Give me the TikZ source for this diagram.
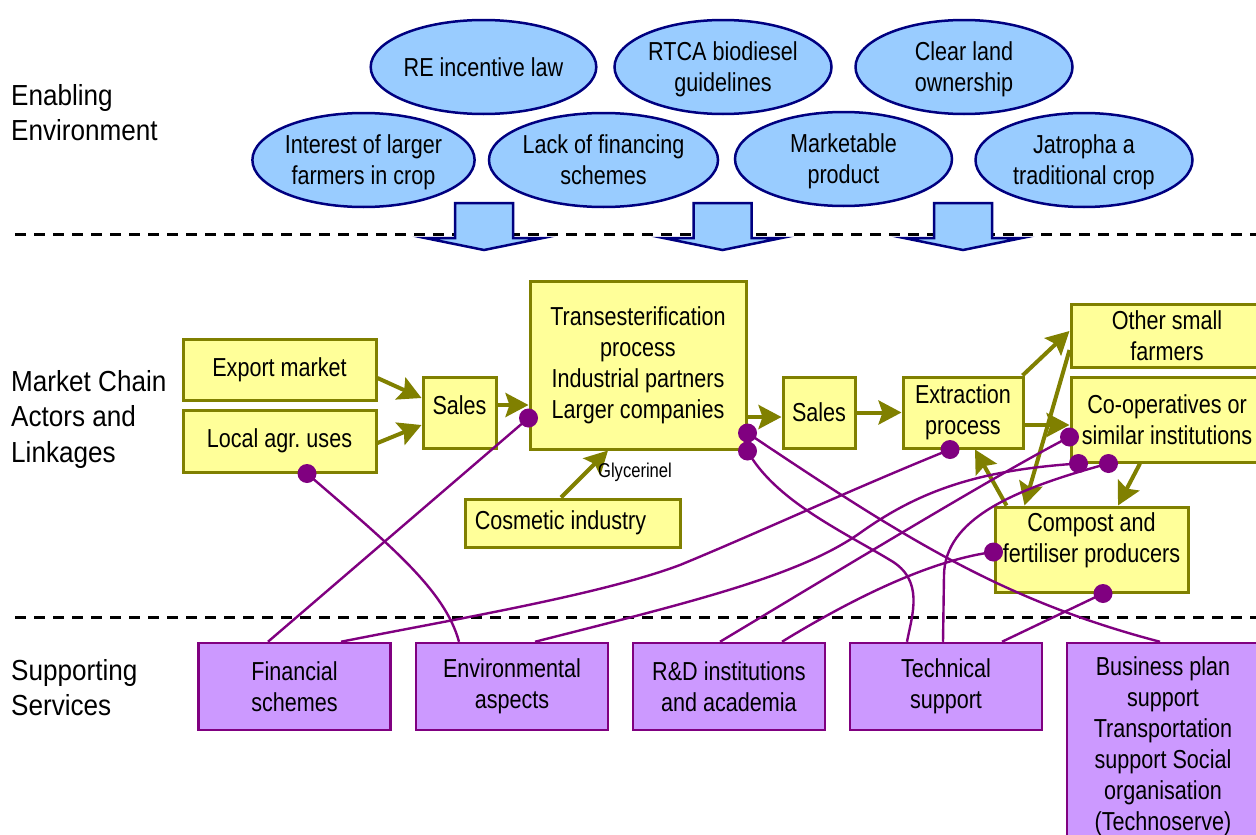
\documentclass[tikz,border=0pt]{standalone}
\usepackage{fontspec}
\setmainfont{Liberation Sans}[FakeStretch=0.83]
\newfontfamily\labfont{Liberation Sans}[FakeStretch=0.9]
\usetikzlibrary{arrows.meta,shapes.geometric,calc}
\definecolor{yfill}{HTML}{FFFF99}
\definecolor{oline}{HTML}{808000}
\definecolor{pfill}{HTML}{CC99FF}
\definecolor{pline}{HTML}{800080}
\definecolor{bfill}{HTML}{99CCFF}
\definecolor{bline}{HTML}{000080}
\begin{document}
\begin{tikzpicture}[x=1pt,y=-1pt,
  txt/.style={font=\fontsize{26}{31}\selectfont, align=center, inner sep=0pt},
  ybox/.style={txt, rectangle, draw=oline, fill=yfill, line width=3pt},
  pbox/.style={txt, rectangle, draw=pline, fill=pfill, line width=2.5pt, minimum width=192pt, minimum height=87pt},
  oval/.style={txt, ellipse, draw=bline, fill=bfill, line width=2.5pt, minimum width=217pt, minimum height=94pt, text depth=0pt},
  sect/.style={font=\labfont\fontsize{29}{35.5}\selectfont, align=left, inner sep=0pt, anchor=west},
  flow/.style={draw=oline, line width=4pt, -{Stealth[length=23pt,width=24pt,inset=4pt]}},
  link/.style={draw=pline, line width=2.4pt},
  dot/.style={fill=pline},
  divider/.style={draw=black, line width=3pt, dash pattern=on 11pt off 8pt},
  blockarrow/.style={draw=bline, fill=bfill, line width=2.5pt, line join=miter}
]
\fill[white] (0,0) rectangle (1256,835);
\useasboundingbox (0,0) rectangle (1256,835);

% section dividers
\draw[divider] (15,234) -- (1256,234);
\draw[divider] (15,617) -- (1256,617);

% block arrows
\foreach \cx in {484,722.5,963} {
  \draw[blockarrow] (\cx-29,203) -- (\cx+29,203) -- (\cx+29,238) -- (\cx+59,238)
     -- (\cx,250) -- (\cx-59,238) -- (\cx-29,238) -- cycle;
}

% section labels
\node[sect] (envlab) at (11,112.5) {Enabling\\Environment};
\node[sect] (mcl) at (11,419) {Market Chain\\Actors and\\Linkages};
\node[sect] (ssl) at (11,687.5) {Supporting\\Services};

% enabling environment
\node[oval] (re) at (483.5,67) {RE incentive law};
\node[oval] (rtca) at (723,67) {RTCA biodiesel\\guidelines};
\node[oval] (land) at (964,67) {Clear land\\ownership};
\node[oval] (interest) at (363.5,160) {Interest of larger\\farmers in crop};
\node[oval] (lack) at (603.5,160) {Lack of financing\\schemes};
\node[oval] (mkt) at (843.5,159) {Marketable\\product};
\node[oval] (jat) at (1084,160) {Jatropha a\\traditional crop};

% market chain
\node[ybox, minimum width=193pt, minimum height=61pt] (export) at (279.5,369.5) {Export market};
\node[ybox, minimum width=193pt, minimum height=62pt] (local) at (279.5,441) {Local agr.\ uses};
\node[ybox, minimum width=73pt, minimum height=71pt, text height=19pt, text depth=16pt] (sales1) at (459.5,413) {Sales};
\node[ybox, minimum width=216pt, minimum height=168pt] (trans) at (638,365) {Transesterification\\process\\Industrial partners\\Larger companies};
\node[ybox, minimum width=215pt, minimum height=48pt] (cosm) at (572.5,523) {Cosmetic industry\hspace*{24pt}};
\node[ybox, minimum width=72pt, minimum height=71pt] (sales2) at (819,412.5) {Sales};
\node[ybox, minimum width=120pt, minimum height=71pt] (extr) at (963,412.5) {Extraction\\process};
\node[ybox, minimum width=192pt, minimum height=63pt] (other) at (1167,335.5) {Other small\\farmers};
\node[ybox, minimum width=192pt, minimum height=85pt] (coop) at (1167,419.5) {Co-operatives or\\similar institutions};
\node[ybox, minimum width=193pt, minimum height=85pt, text depth=24.5pt] (comp) at (1091.5,549.5) {Compost and\\fertiliser producers};

% supporting services
\node[pbox] (fin) at (294.5,686.5) {Financial\\schemes};
\node[pbox] (env) at (512,686.5) {Environmental\\aspects};
\node[pbox] (rd) at (729,686.5) {R\&D institutions\\and academia};
\node[pbox] (tech) at (946,686.5) {Technical\\support};
\node[pbox, minimum height=207pt] (biz) at (1163,746.5) {Business plan\\support\\Transportation\\support Social\\organisation\\(Technoserve)};

% product flows
\draw[flow] ([yshift=-8.5pt]export.east) -- ([yshift=15pt]sales1.west);
\draw[flow] ([yshift=-2pt]local.east) -- ([yshift=-12pt]sales1.west);
\draw[flow] ([yshift=8pt]sales1.east) -- ([yshift=-40pt]trans.west);
\draw[flow] ([yshift=-52pt]trans.east) -- ([yshift=-4.5pt]sales2.west);
\draw[flow] (sales2.east) -- (extr.west);
\draw[flow] ([xshift=-2pt]extr.north east) -- ([yshift=4.5pt]other.west);
\draw[flow] ([yshift=-12.5pt]extr.east) -- ([yshift=-5.5pt]coop.west);
\draw[flow] ([xshift=-11.5pt]cosm.north) -- ([xshift=-30pt]trans.south);
\draw[flow] ([xshift=13pt]comp.north west) -- ([xshift=12pt]extr.south);
\draw[flow] ([yshift=-14.5pt]other.west) -- ([xshift=31pt]comp.north west);
\draw[flow] ([xshift=-27pt]coop.south) -- ([xshift=26.5pt]comp.north);
\node[font=\fontsize{20}{24}\selectfont, inner sep=0pt] (gly) at (635,472) {Glycerinel};

% service link end points
\coordinate (dLocal) at ([xshift=27.5pt]local.south);
\coordinate (dTransL) at ([yshift=-53pt]trans.west);
\coordinate (dTransA) at ([yshift=-68pt]trans.east);
\coordinate (dTransB) at ([yshift=-86pt]trans.east);
\coordinate (dExtr) at ([xshift=-13pt]extr.south);
\coordinate (dCoopA) at ([yshift=-17.5pt]coop.west);
\coordinate (dCoopB) at ([xshift=9pt]coop.south west);
\coordinate (dCoopC) at ([xshift=39pt]coop.south west);
\coordinate (dCompA) at ([yshift=-2.5pt]comp.west);
\coordinate (dCompB) at ([xshift=11.5pt]comp.south);

% service links
\draw[link] (dLocal) .. controls (390,545) and (445,590) .. ([xshift=-53pt]env.north);
\draw[link] (dTransL) -- ([xshift=-26.5pt]fin.north);
\draw[link] (dTransA) .. controls (900,535) and (1000,600) .. ([xshift=-3pt]biz.north);
\draw[link] (dTransB) .. controls (775,500) and (840,530) .. (890,560) .. controls (925,580) and (912,615) .. ([xshift=-39pt]tech.north);
\draw[link] (dExtr) .. controls (850,490) and (760,532) .. (680,565) .. controls (600,595) and (450,620) .. ([xshift=46.5pt]fin.north);
\draw[link] (dCoopA) .. controls (1000,472) and (790,600) .. ([xshift=-9pt]rd.north);
\draw[link] (dCoopB) .. controls (980,470) and (920,490) .. (860,533) .. controls (800,575) and (700,600) .. ([xshift=23pt]env.north);
\draw[link] (dCoopC) .. controls (1010,490) and (945,520) .. (944,575) -- ([xshift=-3pt]tech.north);
\draw[link] (dCompA) .. controls (930,560) and (850,600) .. ([xshift=53pt]rd.north);
\draw[link] (dCompB) -- ([xshift=56pt]tech.north);

\foreach \d in {dLocal,dTransL,dTransA,dTransB,dExtr,dCoopA,dCoopB,dCoopC,dCompA,dCompB}
  \fill[dot] (\d) circle (9.5pt);
\end{tikzpicture}
\end{document}
